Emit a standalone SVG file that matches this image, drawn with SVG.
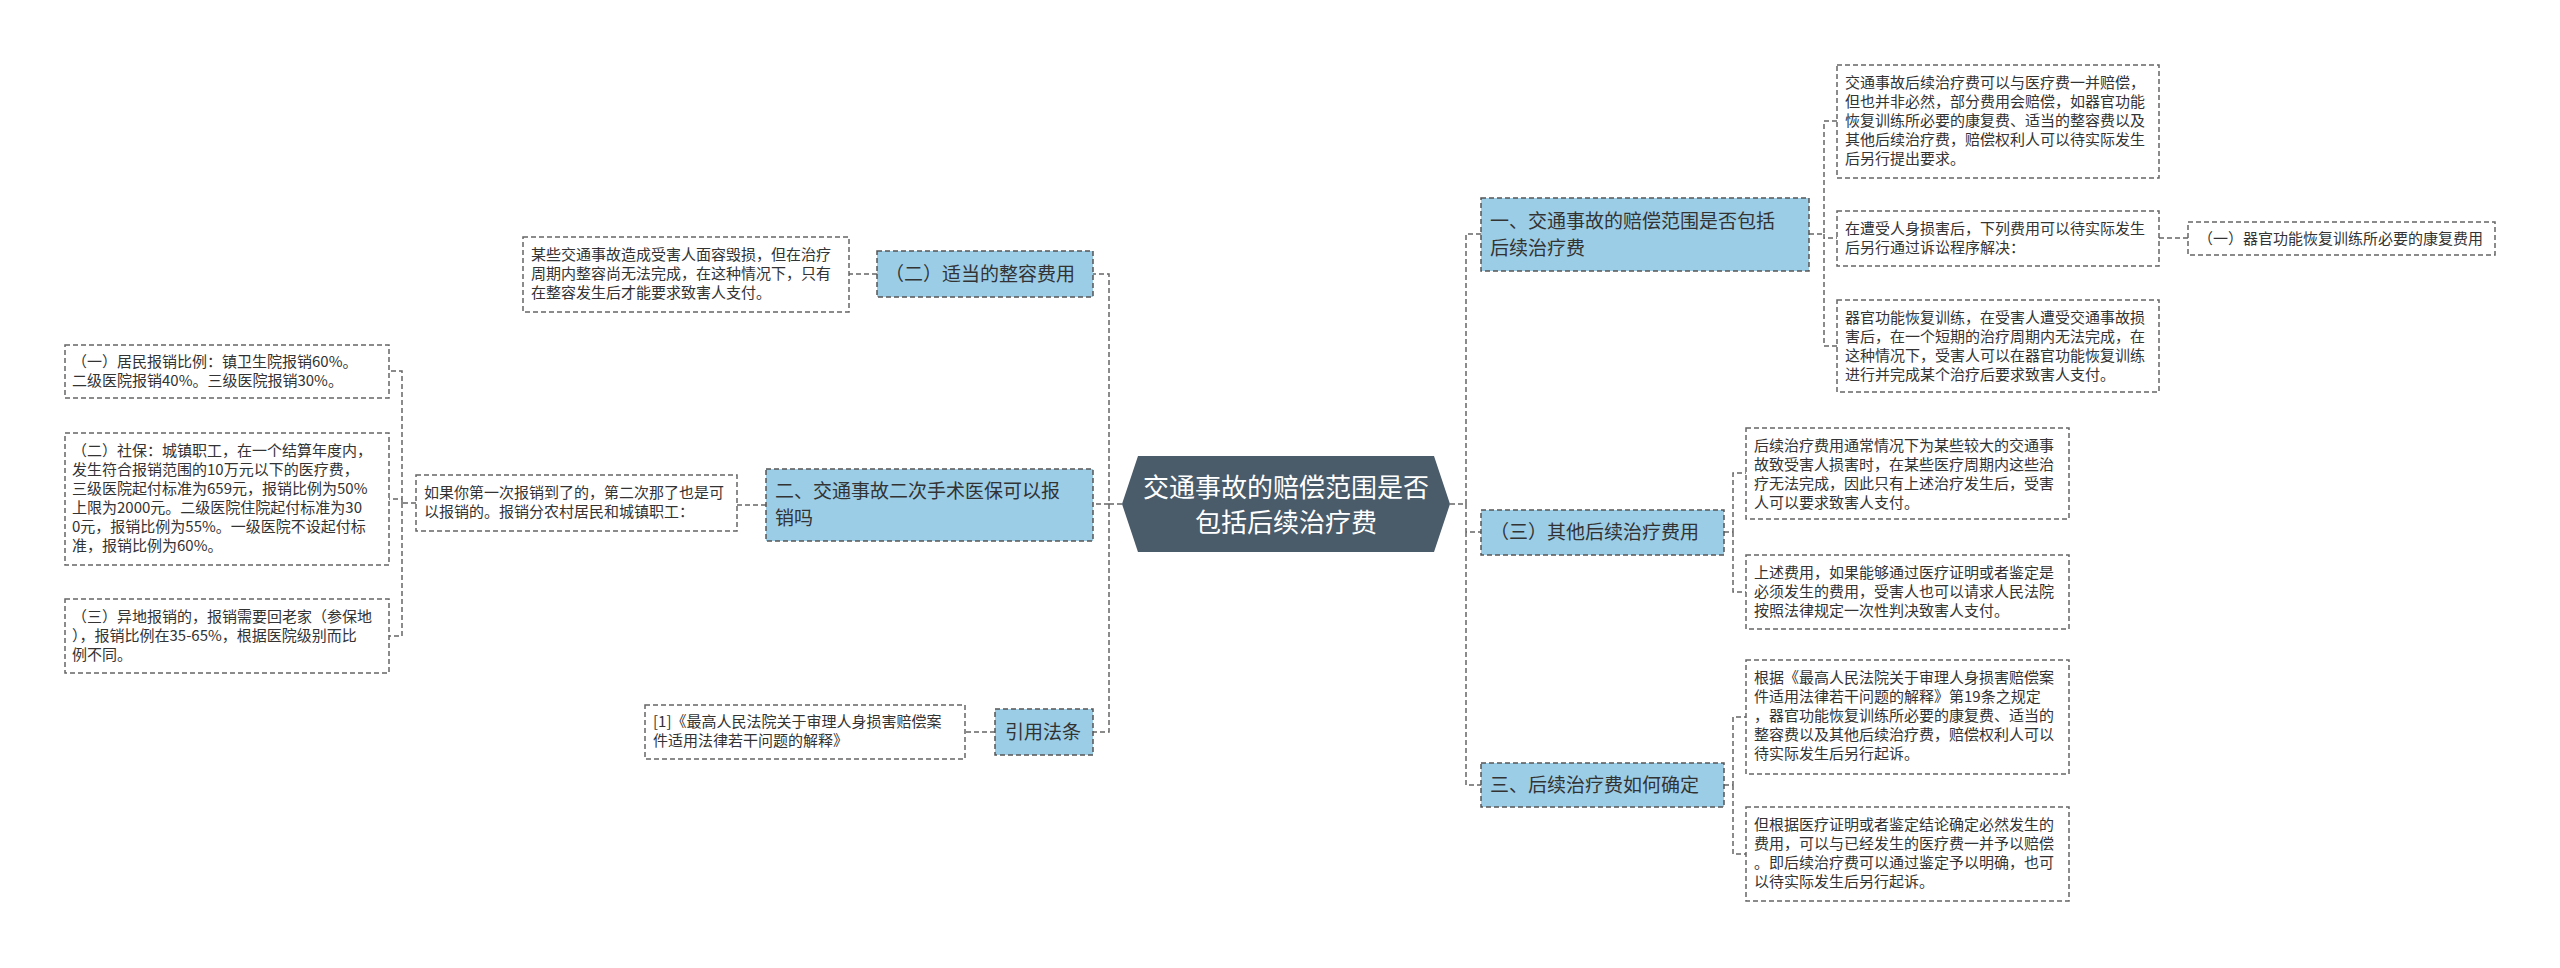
<svg xmlns="http://www.w3.org/2000/svg" width="2560" height="968" viewBox="0 0 2560 968">
<style>
text{font-family:"Noto Sans CJK SC","Liberation Sans",sans-serif;fill:#333}
.d rect{fill:#fff;stroke:#666;stroke-width:1.5;stroke-dasharray:5 3}
.d text{font-size:15px}
.b rect{fill:#9ccde6;stroke:#555;stroke-width:1.5;stroke-dasharray:5 3}
.b text{font-size:19px}
#conn path{fill:none;stroke:#666;stroke-width:1.5;stroke-dasharray:5 3}
</style>
<rect width="2560" height="968" fill="#fff"/>
<g id="conn">
<path d="M1450 504H1466V234H1481M1466 504V532H1481M1466 532V785H1481"/>
<path d="M1122 504H1109V274H1093M1109 504H1093M1109 504V732H1093"/>
<path d="M1809 234H1824V121H1837M1824 234V238H1837M1824 234V346H1837M2159 238H2188"/>
<path d="M1724 532H1733V473H1746M1733 532V592H1746"/>
<path d="M1724 785H1733V717H1746M1733 785V854H1746"/>
<path d="M877 274H849"/>
<path d="M766 505H737M416 503H402V371H389M402 503V499H389M402 503V636H389"/>
<path d="M995 732H965"/>
</g>
<g id="center">
<polygon points="1122,504 1138,456 1434,456 1450,504 1434,552 1138,552" fill="#4a5b6a"/>
<text x="1286" y="497" text-anchor="middle" font-size="26" style="fill:#fff">交通事故的赔偿范围是否</text>
<text x="1286" y="532" text-anchor="middle" font-size="26" style="fill:#fff">包括后续治疗费</text>
</g>
<g id="bA" class="b"><rect x="1481" y="198" width="328" height="73"/><text x="1490" y="228">一、交通事故的赔偿范围是否包括</text><text x="1490" y="255">后续治疗费</text></g>
<g id="bB" class="b"><rect x="1481" y="510" width="243" height="45"/><text x="1490" y="539">（三）其他后续治疗费用</text></g>
<g id="bC" class="b"><rect x="1481" y="763" width="243" height="44"/><text x="1490" y="792">三、后续治疗费如何确定</text></g>
<g id="bD" class="b"><rect x="877" y="251" width="216" height="46"/><text x="885" y="281">（二）适当的整容费用</text></g>
<g id="bE" class="b"><rect x="766" y="469" width="327" height="72"/><text x="775" y="498">二、交通事故二次手术医保可以报</text><text x="775" y="525">销吗</text></g>
<g id="bF" class="b"><rect x="995" y="709" width="98" height="46"/><text x="1005" y="739">引用法条</text></g>
<g id="a1" class="d"><rect x="1837" y="65" width="322" height="113"/>
<text x="1845" y="88">交通事故后续治疗费可以与医疗费一并赔偿，</text><text x="1845" y="107">但也并非必然，部分费用会赔偿，如器官功能</text><text x="1845" y="126">恢复训练所必要的康复费、适当的整容费以及</text><text x="1845" y="145">其他后续治疗费，赔偿权利人可以待实际发生</text><text x="1845" y="164">后另行提出要求。</text></g>
<g id="a2" class="d"><rect x="1837" y="211" width="322" height="55"/>
<text x="1845" y="234">在遭受人身损害后，下列费用可以待实际发生</text><text x="1845" y="253">后另行通过诉讼程序解决：</text></g>
<g id="a2c" class="d"><rect x="2188" y="222" width="307" height="33"/><text x="2198" y="244">（一）器官功能恢复训练所必要的康复费用</text></g>
<g id="a3" class="d"><rect x="1837" y="300" width="322" height="92"/>
<text x="1845" y="323">器官功能恢复训练，在受害人遭受交通事故损</text><text x="1845" y="342">害后，在一个短期的治疗周期内无法完成，在</text><text x="1845" y="361">这种情况下，受害人可以在器官功能恢复训练</text><text x="1845" y="380">进行并完成某个治疗后要求致害人支付。</text></g>
<g id="b1" class="d"><rect x="1746" y="428" width="323" height="91"/>
<text x="1754" y="451">后续治疗费用通常情况下为某些较大的交通事</text><text x="1754" y="470">故致受害人损害时，在某些医疗周期内这些治</text><text x="1754" y="489">疗无法完成，因此只有上述治疗发生后，受害</text><text x="1754" y="508">人可以要求致害人支付。</text></g>
<g id="b2" class="d"><rect x="1746" y="555" width="323" height="74"/>
<text x="1754" y="578">上述费用，如果能够通过医疗证明或者鉴定是</text><text x="1754" y="597">必须发生的费用，受害人也可以请求人民法院</text><text x="1754" y="616">按照法律规定一次性判决致害人支付。</text></g>
<g id="c1" class="d"><rect x="1746" y="660" width="323" height="114"/>
<text x="1754" y="683">根据《最高人民法院关于审理人身损害赔偿案</text><text x="1754" y="702">件适用法律若干问题的解释》第19条之规定</text><text x="1754" y="721">，器官功能恢复训练所必要的康复费、适当的</text><text x="1754" y="740">整容费以及其他后续治疗费，赔偿权利人可以</text><text x="1754" y="759">待实际发生后另行起诉。</text></g>
<g id="c2" class="d"><rect x="1746" y="807" width="323" height="94"/>
<text x="1754" y="830">但根据医疗证明或者鉴定结论确定必然发生的</text><text x="1754" y="849">费用，可以与已经发生的医疗费一并予以赔偿</text><text x="1754" y="868">。即后续治疗费可以通过鉴定予以明确，也可</text><text x="1754" y="887">以待实际发生后另行起诉。</text></g>
<g id="d1" class="d"><rect x="523" y="237" width="326" height="75"/>
<text x="531" y="260">某些交通事故造成受害人面容毁损，但在治疗</text><text x="531" y="279">周期内整容尚无法完成，在这种情况下，只有</text><text x="531" y="298">在整容发生后才能要求致害人支付。</text></g>
<g id="e1" class="d"><rect x="416" y="475" width="321" height="56"/>
<text x="424" y="498">如果你第一次报销到了的，第二次那了也是可</text><text x="424" y="517">以报销的。报销分农村居民和城镇职工：</text></g>
<g id="l1" class="d"><rect x="65" y="345" width="324" height="53"/>
<text x="72" y="367">（一）居民报销比例：镇卫生院报销60%。</text><text x="72" y="386">二级医院报销40%。三级医院报销30%。</text></g>
<g id="l2" class="d"><rect x="65" y="433" width="324" height="132"/>
<text x="72" y="456">（二）社保：城镇职工，在一个结算年度内，</text><text x="72" y="475">发生符合报销范围的10万元以下的医疗费，</text><text x="72" y="494">三级医院起付标准为659元，报销比例为50%</text><text x="72" y="513">上限为2000元。二级医院住院起付标准为30</text><text x="72" y="532">0元，报销比例为55%。一级医院不设起付标</text><text x="72" y="551">准，报销比例为60%。</text></g>
<g id="l3" class="d"><rect x="65" y="599" width="324" height="74"/>
<text x="72" y="622">（三）异地报销的，报销需要回老家（参保地</text><text x="72" y="641">），报销比例在35-65%，根据医院级别而比</text><text x="72" y="660">例不同。</text></g>
<g id="f1" class="d"><rect x="645" y="705" width="320" height="54"/>
<text x="653" y="727">[1]《最高人民法院关于审理人身损害赔偿案</text><text x="653" y="746">件适用法律若干问题的解释》</text></g>
</svg>
